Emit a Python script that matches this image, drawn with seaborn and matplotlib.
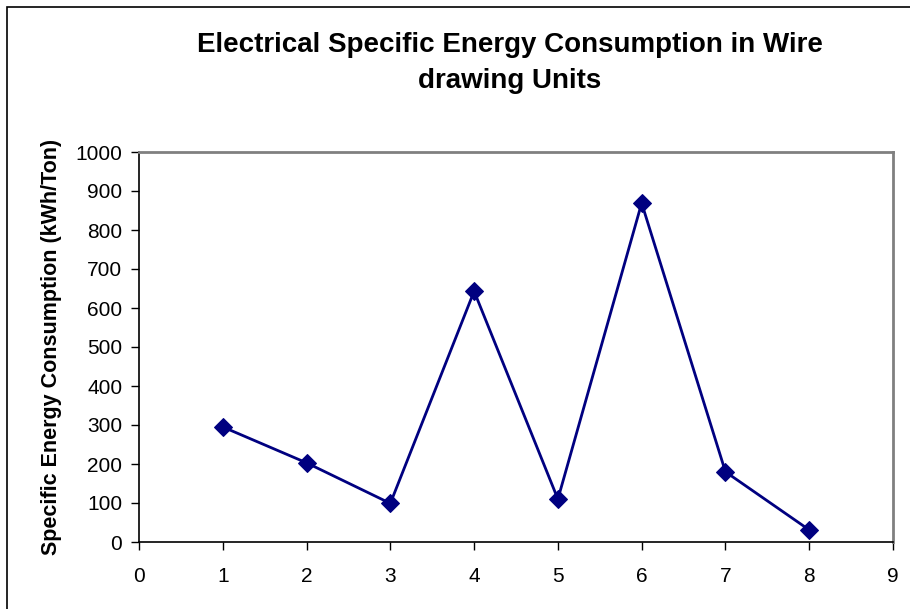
import matplotlib
matplotlib.use("Agg")
import matplotlib.pyplot as plt
import seaborn as sns
import pandas as pd
from matplotlib.patches import Rectangle

units = [1, 2, 3, 4, 5, 6, 7, 8]
sec = [295, 203, 99, 643, 110, 869, 180, 31]
x_ticks = [0, 1, 2, 3, 4, 5, 6, 7, 8, 9]
y_ticks = [0, 100, 200, 300, 400, 500, 600, 700, 800, 900, 1000]

sns.set_theme(style="white")
plt.rcParams['font.family'] = ['Liberation Sans', 'DejaVu Sans']
plt.rcParams['text.color'] = 'black'
plt.rcParams['axes.labelcolor'] = 'black'

df = pd.DataFrame({"unit": units, "sec": sec})

fig = plt.figure(figsize=(9.10, 6.09), dpi=100)
ax = fig.add_axes([139/910, 1 - 542/609, (893-139)/910, (542-152)/609])

sns.lineplot(data=df, x="unit", y="sec", ax=ax, color="#000080", linewidth=2,
             marker="D", markersize=9, markeredgecolor="#000080")

ax.set_xlim(0, 9)
ax.set_ylim(0, 1000)
ax.set_xticks(x_ticks)
ax.set_yticks(y_ticks)
ax.tick_params(axis="both", direction="out", length=6, width=1, color="black",
               labelsize=15, labelcolor="black", bottom=True, left=True)
ax.tick_params(axis="x", pad=12)
ax.tick_params(axis="y", pad=6)
ax.set_xlabel("")
ax.set_ylabel("Specific Energy Consumption (kWh/Ton)", fontsize=15.5, fontweight="bold",
              labelpad=10, color="black")

for s in ["left", "bottom"]:
    ax.spines[s].set_color("black")
    ax.spines[s].set_linewidth(1.2)
for s in ["top", "right"]:
    ax.spines[s].set_color("#808080")
    ax.spines[s].set_linewidth(2)

fig.text(510/910, 1 - 63/609, "Electrical Specific Energy Consumption in Wire\ndrawing Units",
         ha="center", va="center", fontsize=20, fontweight="bold", linespacing=1.45, color="black")

fig.patches.append(Rectangle((7/910, -0.05), 1.0, 1 - 7/609 + 0.05, transform=fig.transFigure,
                             fill=False, edgecolor="black", linewidth=1.2))

fig.savefig("out.png", dpi=100)
